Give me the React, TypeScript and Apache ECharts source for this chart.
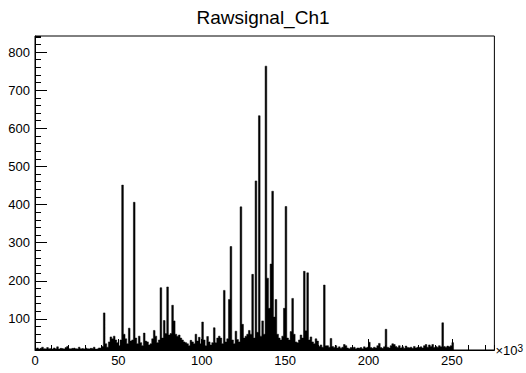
import React, { useEffect, useRef } from 'react';
import * as echarts from 'echarts';

const TITLE = 'Rawsignal_Ch1';
const X_MIN = 0;
const X_MAX = 275.5; // in units of 10^3
const Y_MIN = 18.7;
const Y_MAX = 842;
const BIN_WIDTH = 1;

// bin contents, bins 0..39
const baseLow = [
  22, 24, 21, 23, 26, 22, 21, 25, 22, 23,
  21, 24, 22, 27, 21, 23, 22, 21, 25, 28,
  22, 21, 23, 24, 22, 21, 26, 22, 23, 21,
  24, 22, 21, 23, 22, 26, 21, 22, 24, 23,
];

// bin contents, bins 40..174
const baseMid = [
  28, 116, 35, 26, 40, 53, 48, 55, 45, 38,
  30, 45, 451, 60, 48, 35, 76, 42, 45, 406,
  50, 35, 55, 38, 30, 63, 42, 40, 32, 35,
  48, 70, 55, 38, 45, 182, 50, 96, 62, 184,
  58, 62, 136, 95, 60, 55, 58, 50, 45, 40,
  38, 35, 30, 44, 40, 35, 60, 42, 52, 35,
  92, 45, 30, 54, 40, 32, 38, 77, 38, 50,
  55, 50, 35, 175, 40, 48, 151, 290, 45, 35,
  68, 46, 40, 394, 86, 50, 55, 60, 70, 60,
  217, 50, 462, 65, 633, 55, 95, 60, 763, 207,
  128, 244, 435, 105, 151, 60, 50, 45, 55, 128,
  395, 50, 45, 67, 154, 60, 40, 38, 45, 58,
  50, 225, 69, 221, 45, 53, 40, 35, 48, 42,
  28, 32, 26, 189, 30,
];

// bin contents, bins 175..250
const baseHigh = [
  30, 26, 49, 28, 25, 30, 24, 27, 23, 26,
  33, 30, 24, 22, 25, 23, 26, 22, 24, 23,
  25, 22, 27, 24, 26, 39, 25, 23, 26, 24,
  30, 36, 25, 23, 27, 73, 26, 24, 30, 35,
  33, 28, 25, 30, 24, 27, 23, 29, 25, 24,
  26, 23, 28, 24, 26, 25, 27, 24, 30, 33,
  26, 32, 28, 33, 25, 28, 26, 30, 27, 90,
  28, 26, 29, 27, 30, 38,
];

const FONT = '"Liberation Sans", Arial, Helvetica, sans-serif';

export default function App() {
  const ref = useRef<HTMLDivElement>(null);
  useEffect(() => {
    const chart = echarts.init(ref.current!, null, { renderer: 'svg' });
    const counts = [...baseLow, ...baseMid, ...baseHigh];
    const pts: number[][] = counts.map((v, i) => [X_MIN + i * BIN_WIDTH, v]);
    pts.push([X_MIN + counts.length * BIN_WIDTH, 0]);

    chart.setOption({
      animation: false,
      backgroundColor: '#fff',
      title: {
        text: TITLE,
        left: 'center',
        top: 3,
        textStyle: { fontFamily: FONT, fontSize: 19, fontWeight: 'normal', color: '#000' },
      },
      grid: {
        left: 35, right: 27, top: 36, bottom: 23,
        show: true, borderColor: '#000', borderWidth: 1, backgroundColor: 'transparent',
      },
      xAxis: [
        {
          type: 'value', min: X_MIN, max: X_MAX, interval: 50, position: 'bottom',
          axisLine: { show: true, lineStyle: { color: '#000', width: 1 } },
          axisTick: { show: true, inside: true, length: 11, lineStyle: { color: '#000' } },
          axisLabel: { show: true, showMaxLabel: false, margin: 4, color: '#000', fontFamily: FONT, fontSize: 13 },
          splitLine: { show: false },
          name: '{a|×10}{b|3}',
          nameLocation: 'end',
          nameGap: 1,
          nameTextStyle: {
            rich: {
              a: { fontFamily: FONT, fontSize: 13, color: '#000' },
              b: { fontFamily: FONT, fontSize: 10, color: '#000', verticalAlign: 'top' },
            },
          },
        },
        {
          type: 'value', min: X_MIN, max: X_MAX, interval: 10, position: 'bottom',
          axisLine: { show: false },
          axisTick: { show: true, inside: true, length: 5, lineStyle: { color: '#000' } },
          axisLabel: { show: false },
          splitLine: { show: false },
        },
      ],
      yAxis: [
        {
          type: 'value', min: Y_MIN, max: Y_MAX, splitNumber: 8, position: 'left',
          axisLine: { show: true, lineStyle: { color: '#000', width: 1 } },
          axisTick: { show: true, inside: true, length: 12, lineStyle: { color: '#000' } },
          axisLabel: { show: true, showMinLabel: false, showMaxLabel: false, margin: 5, color: '#000', fontFamily: FONT, fontSize: 13 },
          splitLine: { show: false },
        },
        {
          type: 'value', min: Y_MIN, max: Y_MAX, splitNumber: 41, position: 'left', offset: 0,
          axisLine: { show: false },
          axisTick: { show: true, inside: true, length: 6, lineStyle: { color: '#000' } },
          axisLabel: { show: false },
          splitLine: { show: false },
        },
      ],
      series: [
        {
          type: 'line',
          xAxisIndex: 0,
          yAxisIndex: 0,
          data: pts,
          step: 'end',
          symbol: 'none',
          clip: true,
          lineStyle: { color: '#000', width: 0.5 },
          areaStyle: { color: '#000', opacity: 1 },
        },
      ],
    });
    return () => chart.dispose();
  }, []);
  return <div ref={ref} style={{ position: 'fixed', left: 0, top: 0, width: 526, height: 373 }} />;
}
